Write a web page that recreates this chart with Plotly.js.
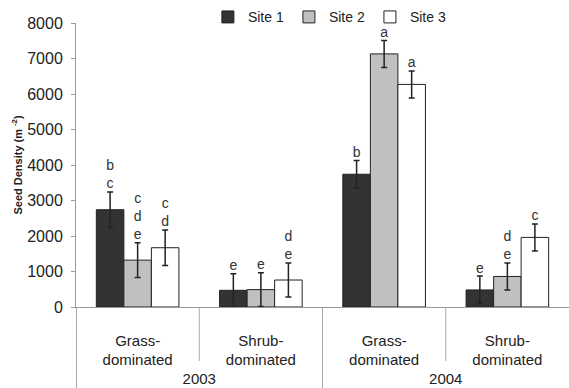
<!DOCTYPE html>
<html><head><meta charset="utf-8">
<script src="https://cdn.plot.ly/plotly-3.0.1.min.js"></script>
<style>html,body{margin:0;padding:0;background:#fff}</style>
</head><body><div id="chart" style="width:569px;height:388px"></div>
<script>
const years = ['2003', '2003', '2004', '2004'];
const habitats = [' <br>Grass-<br>dominated', ' <br>Shrub-<br>dominated', ' <br>Grass-<br>dominated', ' <br>Shrub-<br>dominated'];
const siteNames = ['Site 1', 'Site 2', 'Site 3'];
const site1 = [2740, 470, 3740, 480];
const site2 = [1320, 490, 7130, 860];
const site3 = [1670, 760, 6270, 1960];
const site1Err = [500, 470, 390, 390];
const site2Err = [490, 475, 380, 380];
const site3Err = [500, 480, 380, 380];
const site1Letters = ['b<br>c', 'e', 'b', 'e'];
const site2Letters = ['c<br>d<br>e', 'e', 'a', 'd<br>e'];
const site3Letters = ['c<br>d', 'd<br>e', 'a', 'c'];

const values = [site1, site2, site3];
const errs = [site1Err, site2Err, site3Err];
const letters = [site1Letters, site2Letters, site3Letters];
const fills = ['#333333', '#c0c0c0', '#ffffff'];

const traces = [];
for (let i = 0; i < 3; i++) {
  traces.push({
    type: 'bar', name: siteNames[i], x: [years, habitats], y: values[i],
    marker: {color: fills[i], line: {color: '#222', width: 1}},
    error_y: {type: 'data', array: errs[i], visible: true, color: '#222', thickness: 1.5, width: 3},
    hoverinfo: 'skip'
  });
}
for (let i = 0; i < 3; i++) {
  traces.push({
    type: 'scatter', mode: 'text', showlegend: false, x: [years, habitats],
    y: values[i].map((v, j) => v + errs[i][j]),
    text: letters[i], textposition: 'top center',
    textfont: {family: 'Liberation Sans, Arial, sans-serif', size: 14, color: '#333'},
    cliponaxis: false, hoverinfo: 'skip'
  });
}

const layout = {
  width: 569, height: 388,
  margin: {l: 76, r: 0, t: 23, b: 81},
  paper_bgcolor: '#fff', plot_bgcolor: '#fff',
  font: {family: 'Liberation Sans, Arial, sans-serif', color: '#222'},
  barmode: 'group', bargap: 0.33, bargroupgap: 0,
  scattermode: 'group',
  showlegend: true,
  legend: {orientation: 'h', x: 0.515, xanchor: 'center', y: 1.02, yanchor: 'middle',
    font: {size: 14, color: '#222'}, itemwidth: 30, bgcolor: 'rgba(0,0,0,0)'},
  xaxis: {type: 'multicategory', showline: true, linecolor: '#999', linewidth: 1,
    ticks: '',
    showdividers: true, dividercolor: '#aaa', dividerwidth: 1,
    tickfont: {size: 15, color: '#222'}, showgrid: false, zeroline: false},
  yaxis: {range: [0, 8000], dtick: 1000, showline: true, linecolor: '#999', linewidth: 1,
    ticks: 'outside', ticklen: 4, tickcolor: '#999', showgrid: false, zeroline: false,
    tickfont: {size: 16, color: '#222'}, ticklabelstandoff: 5,
    title: {text: '<b>Seed Density (m <sup>-2</sup>)</b>', font: {size: 11, color: '#222'}, standoff: 2}},
  shapes: [
    {type: 'line', xref: 'x', yref: 'paper', x0: 0.5, x1: 0.5, y0: 0, y1: -0.19, line: {color: '#aaa', width: 1}},
    {type: 'line', xref: 'x', yref: 'paper', x0: 2.5, x1: 2.5, y0: 0, y1: -0.19, line: {color: '#aaa', width: 1}}
  ]
};
Plotly.newPlot('chart', traces, layout, {displayModeBar: false, staticPlot: true});
</script></body></html>
